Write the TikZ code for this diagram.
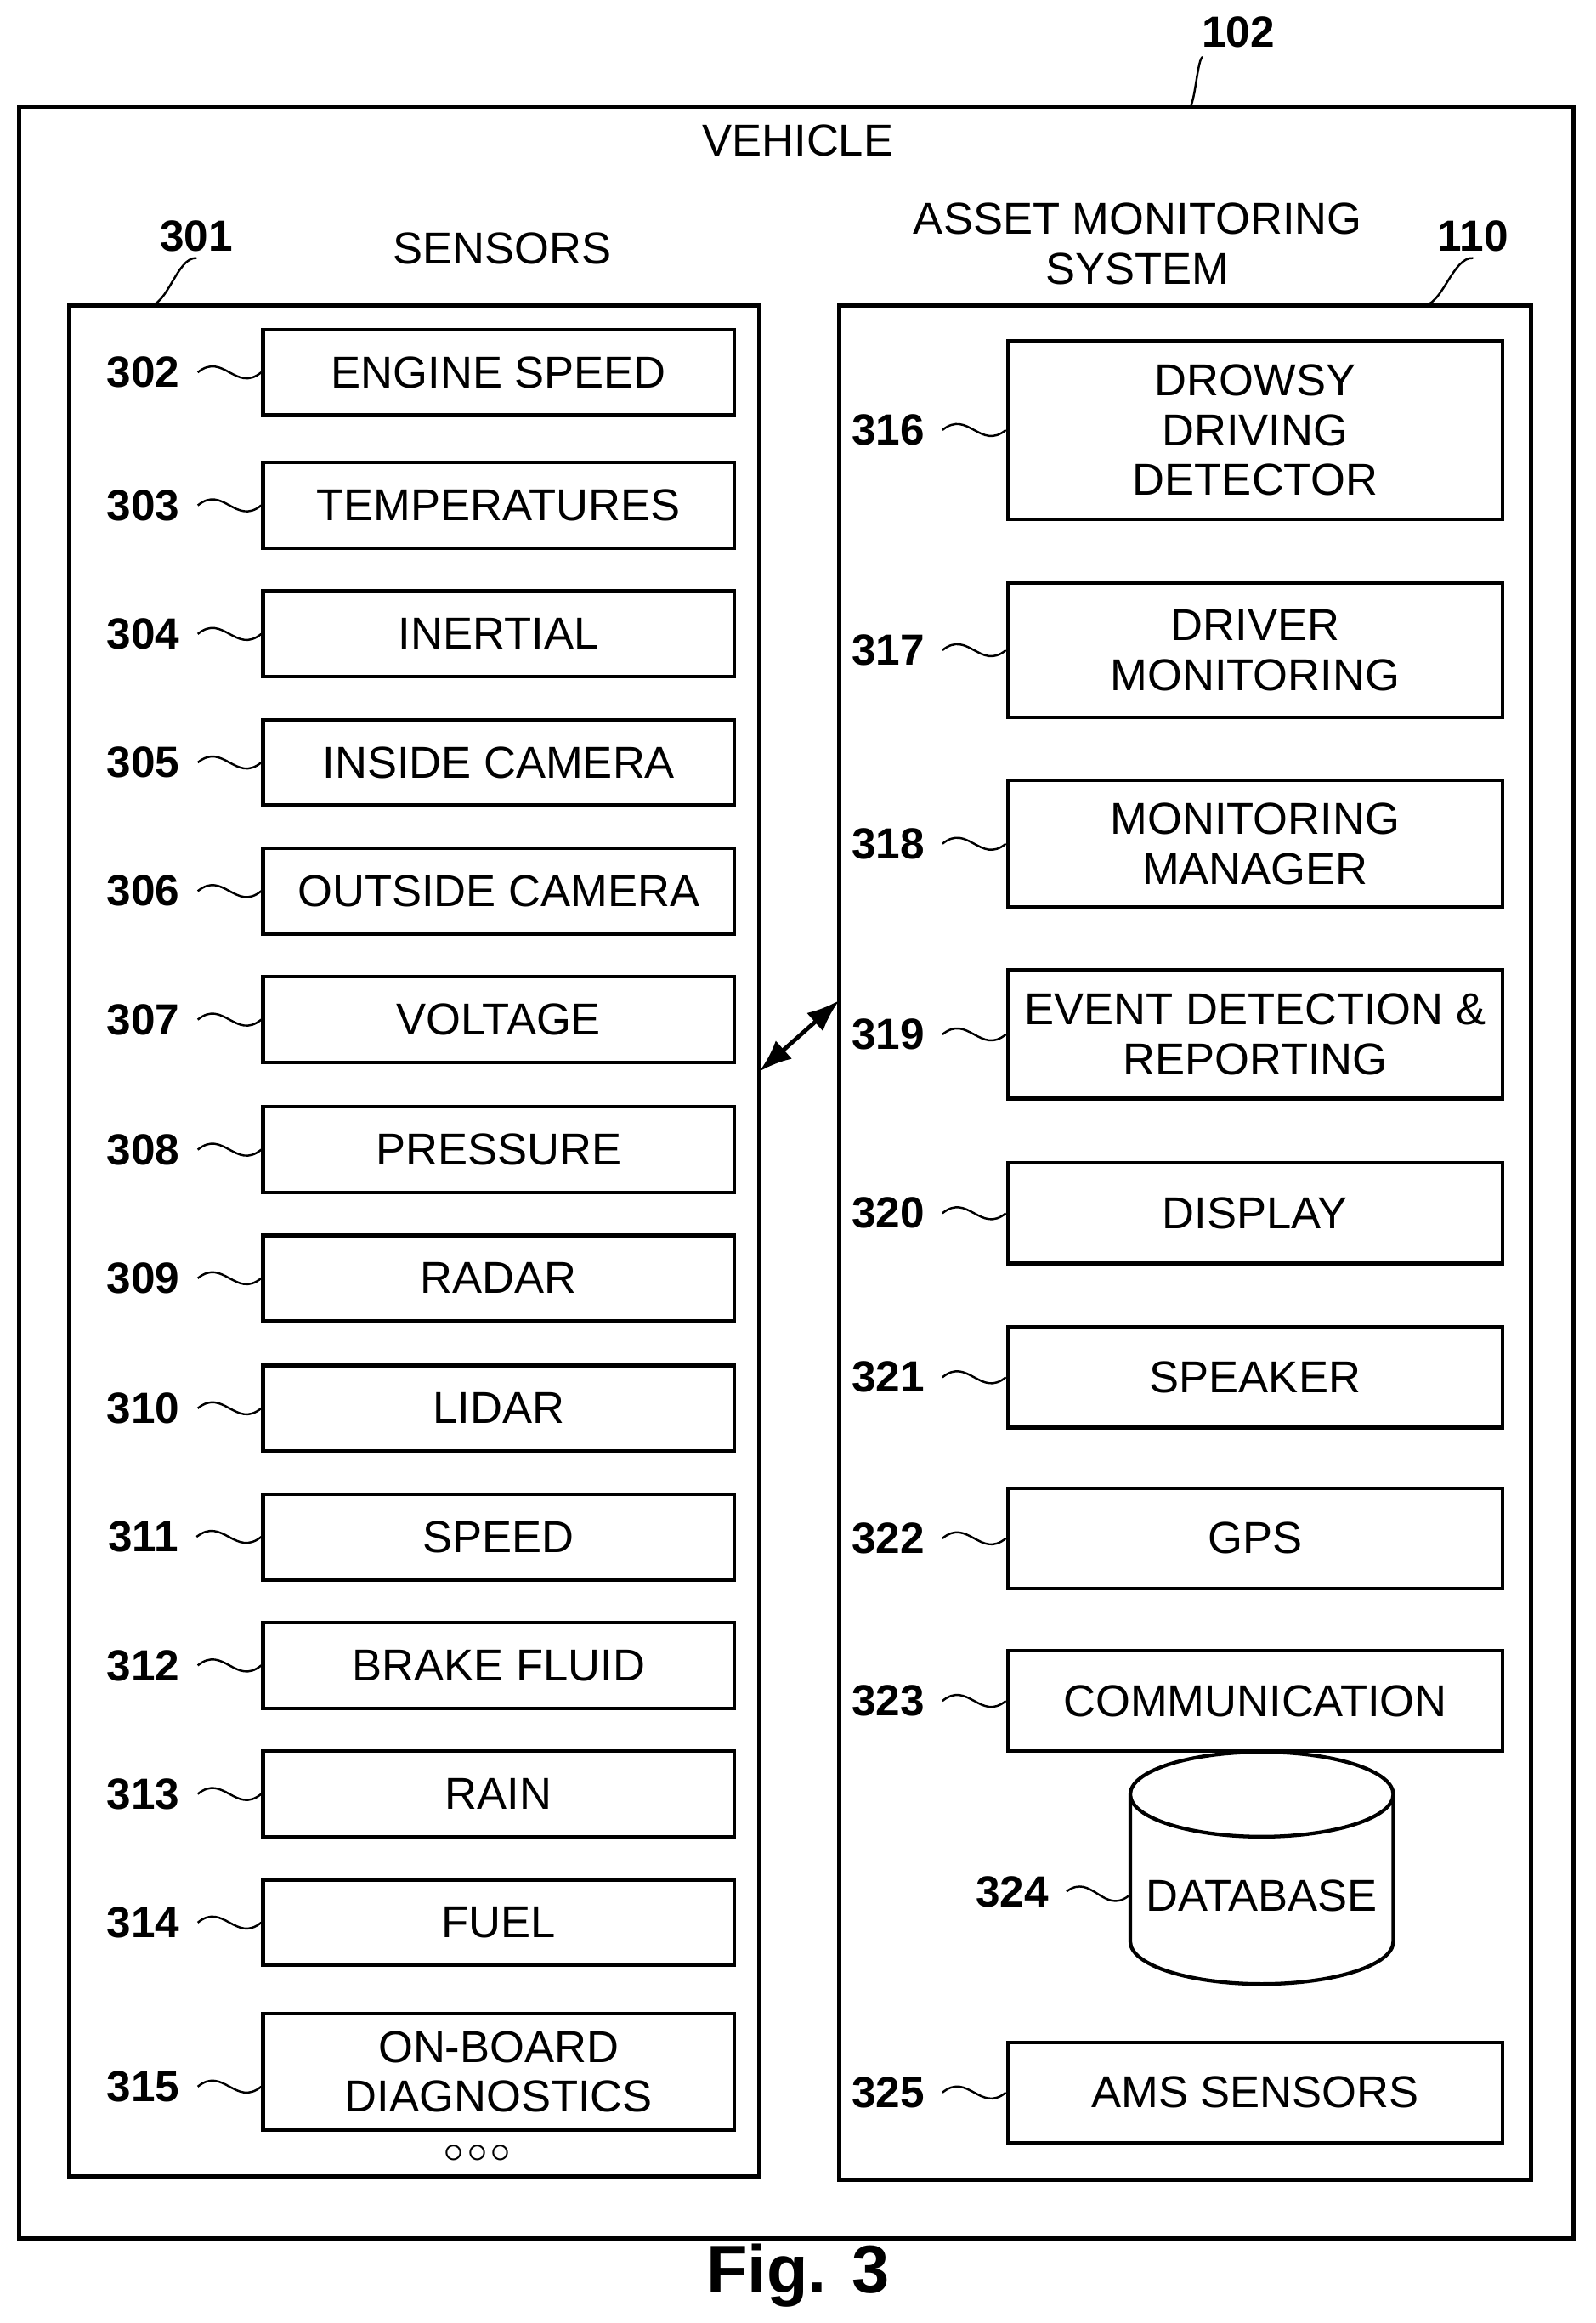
\documentclass[tikz,border=0pt]{standalone}
\usepackage{fontspec}
\setmainfont{Liberation Sans}
\usetikzlibrary{calc,shapes.geometric,arrows.meta}
\tikzset{
  box/.style={draw, line width=0.7pt, align=center, font=\fontsize{8.6}{9.6}\selectfont, inner sep=1pt},
  sbox/.style={box, minimum width=31.9mm, minimum height=5.8mm},
  rbox/.style={box, minimum width=33.5mm},
  num/.style={font=\bfseries\fontsize{8.4}{9}\selectfont, inner sep=1pt},
  frame/.style={draw, line width=0.8pt},
  tilde/.style={line width=0.6pt, to path={.. controls ($(\tikztostart)!0.4!(\tikztotarget)+(0,4pt)$) and ($(\tikztostart)!0.6!(\tikztotarget)+(0,-4pt)$) .. (\tikztotarget)}}
}
\begin{document}
\begin{tikzpicture}[x=0.1mm,y=-0.1mm]
\useasboundingbox (0,0) rectangle (1080,1572);

% outer frames
\draw[frame] (13,72) rectangle (1065,1515);
\node[font=\fontsize{8.6}{9.6}\selectfont] (veh) at (540,95) {VEHICLE};
\node[num] (n102) at (838,22) {102};
\coordinate (c102) at (805,72);
\draw (n102.south west) ++(5,2) to[tilde] (c102);

\draw[frame] (47,207) rectangle (514,1473);
\node[font=\fontsize{8.6}{9.6}\selectfont] (sens) at (340,168) {SENSORS};
\node[num] (n301) at (133,160) {301};
\coordinate (c301) at (100,207);
\draw (n301.south) to[tilde] (c301);

\draw[frame] (568,207) rectangle (1036,1475);
\node[font=\fontsize{8.6}{9.6}\selectfont, align=center] (ams) at (770,165) {ASSET MONITORING\\SYSTEM};
\node[num] (n110) at (997,160) {110};
\coordinate (c110) at (962,207);
\draw (n110.south) to[tilde] (c110);

% sensors
\foreach \n/\t/\y in {302/ENGINE SPEED/252, 303/TEMPERATURES/342, 304/INERTIAL/429,
    305/INSIDE CAMERA/516, 306/OUTSIDE CAMERA/603, 307/VOLTAGE/690, 308/PRESSURE/778,
    309/RADAR/865, 310/LIDAR/953, 311/SPEED/1040, 312/BRAKE FLUID/1127, 313/RAIN/1214,
    314/FUEL/1301}{
  \node[sbox] (b\n) at (337.5,\y) {\t};
  \node[num] (l\n) at (97,\y) {\n};
  \draw (l\n.east) ++(8,0) to[tilde] (b\n.west);
}
\node[sbox, minimum height=7.9mm] (b315) at (337.5,1402) {ON-BOARD\\DIAGNOSTICS};
\node[num] (l315) at (97,1412) {315};
\draw (l315.east) ++(8,0) to[tilde] (b315.west |- l315);
\node[font=\bfseries\fontsize{7}{7}\selectfont] (dots) at (323,1457) {$\circ\!\circ\!\circ$};

% asset monitoring system
\foreach \n/\t/\y/\h in {316/DROWSY\\DRIVING\\DETECTOR/291/12.1, 317/DRIVER\\MONITORING/440/9.1,
    318/MONITORING\\MANAGER/571/8.6, 319/EVENT DETECTION \&\\REPORTING/700/8.7,
    320/DISPLAY/821/6.8, 321/SPEAKER/932/6.8, 322/GPS/1041/6.8,
    323/COMMUNICATION/1151/6.8, 325/AMS SENSORS/1416/6.8}{
  \node[rbox, minimum height=\h mm] (b\n) at (849.5,\y) {\t};
  \node[num] (l\n) at (601,\y) {\n};
  \draw (l\n.east) ++(8,0) to[tilde] (b\n.west);
}
\node[box, cylinder, shape border rotate=90, aspect=0.35, minimum width=17.8mm, minimum height=15.7mm] (b324) at (854,1283) {DATABASE};
\node[num] (l324) at (685,1280) {324};
\draw (l324.east) ++(8,0) to[tilde] (b324.west);

% link
\coordinate (lk1) at (514,725);
\coordinate (lk2) at (568,677);
\draw[{Latex[length=2.2mm]}-{Latex[length=2.2mm]}, line width=0.8pt] (lk1) -- (lk2);

\node[font=\bfseries\fontsize{13}{14}\selectfont] (fig) at (540,1540) {Fig. 3};
\end{tikzpicture}
\end{document}
